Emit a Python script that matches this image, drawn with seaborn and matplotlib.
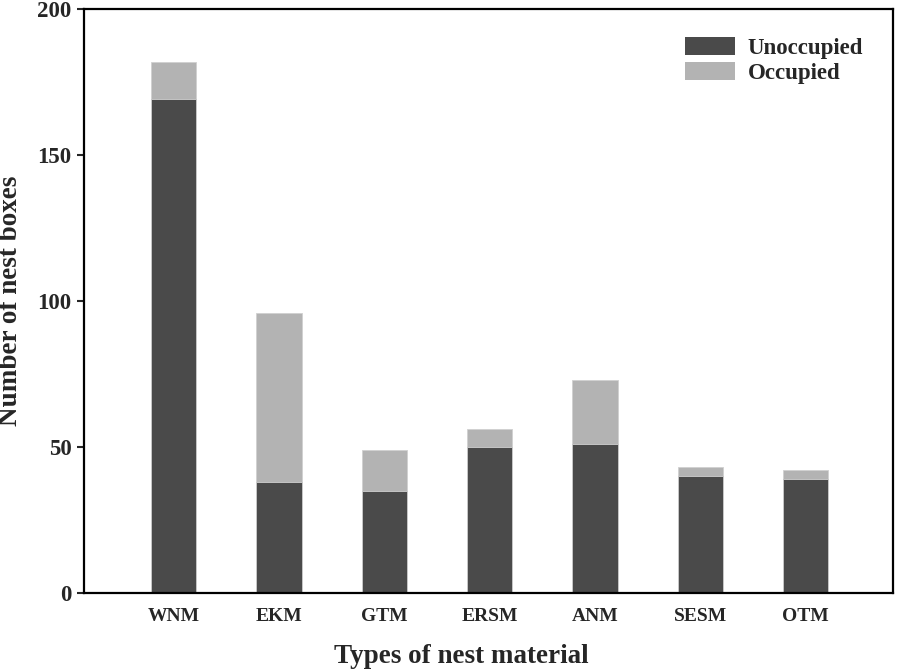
import pandas as pd
import seaborn as sns
import matplotlib.pyplot as plt
from matplotlib.patches import Patch

materials = ["WNM", "EKM", "GTM", "ERSM", "ANM", "SESM", "OTM"]
unoccupied = [169, 38, 35, 50, 51, 40, 39]
occupied = [13, 58, 14, 6, 22, 3, 3]

df = pd.DataFrame({"material": materials, "unoccupied": unoccupied, "occupied": occupied})
df["total"] = df["unoccupied"] + df["occupied"]

sns.set_style("white")
plt.rcParams["font.family"] = ["Liberation Serif", "DejaVu Serif"]
plt.rcParams["font.weight"] = "bold"

dark = "#4a4a4a"
light = "#b3b3b3"

fig = plt.figure(figsize=(8.98, 6.70), dpi=100)
ax = fig.add_axes([0.0935, 0.115, 0.901, 0.8716])

# stacked bars: draw the total in light grey, then the unoccupied part over it
sns.barplot(data=df, x="material", y="total", color=light, width=0.43,
            edgecolor="#d0d0d0", linewidth=0.6, saturation=1, ax=ax)
sns.barplot(data=df, x="material", y="unoccupied", color=dark, width=0.43,
            edgecolor="#d0d0d0", linewidth=0.6, saturation=1, ax=ax)

ax.set_xlim(-0.85, 6.83)
ax.set_ylim(0, 200)
ax.set_yticks([0, 50, 100, 150, 200])
ax.tick_params(axis="y", direction="out", length=5, width=1.5, left=True, labelsize=16.5, pad=4)
ax.tick_params(axis="x", bottom=False, labelsize=14, pad=7)
for lab in ax.get_xticklabels() + ax.get_yticklabels():
    lab.set_fontweight("bold")

for side in ax.spines.values():
    side.set_visible(True)
    side.set_color("black")
    side.set_linewidth(1.6)

ax.set_xlabel("Types of nest material", fontsize=19.5, fontweight="bold")
ax.xaxis.set_label_coords(0.467, -0.088)
ax.set_ylabel("Number of nest boxes", fontsize=19.5, fontweight="bold", labelpad=10)

handles = [Patch(facecolor=dark, edgecolor="none", label="Unoccupied"),
           Patch(facecolor=light, edgecolor="none", label="Occupied")]
ax.legend(handles=handles, loc="upper right", bbox_to_anchor=(0.963, 0.952), frameon=False,
          borderaxespad=0, borderpad=0,
          prop={"size": 16.5, "weight": "bold"}, handlelength=2.2, handleheight=0.85,
          handletextpad=0.55, labelspacing=0.12)

fig.savefig("out.png", dpi=100)
